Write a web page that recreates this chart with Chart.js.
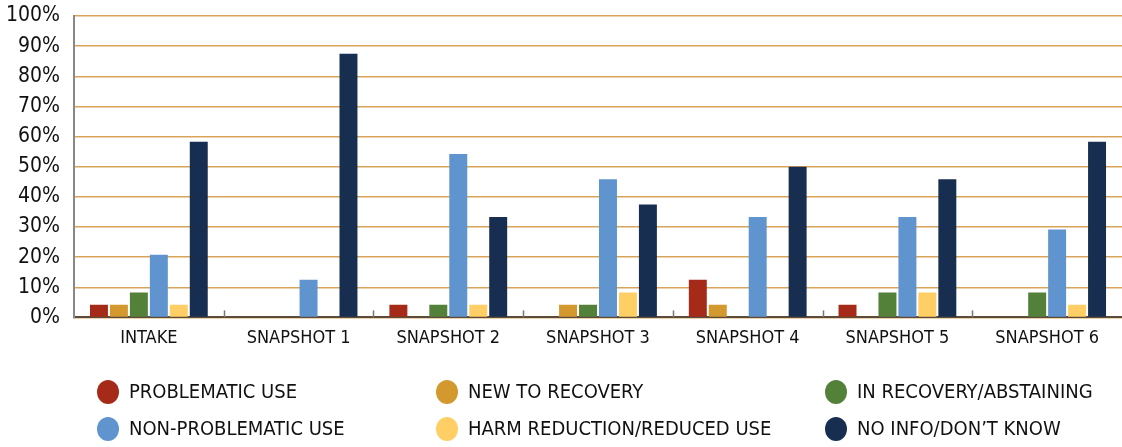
<!DOCTYPE html>
<html>
<head>
<meta charset="utf-8">
<script src="https://cdn.jsdelivr.net/npm/chart.js@4/dist/chart.umd.min.js"></script>
<style>
  html, body { margin: 0; padding: 0; background: #fff; }
  #wrap { width: 1122px; height: 447px; }
</style>
</head>
<body>
<div id="wrap"><canvas id="snapshotChart" width="1122" height="447"></canvas></div>
<script>
// categorias y valores (%)
var categories = ['INTAKE', 'SNAPSHOT 1', 'SNAPSHOT 2', 'SNAPSHOT 3', 'SNAPSHOT 4', 'SNAPSHOT 5', 'SNAPSHOT 6'];
var problematicUse    = [4.2, 0, 4.2, 0, 12.5, 4.2, 0];
var newToRecovery     = [4.2, 0, 0, 4.2, 4.2, 0, 0];
var inRecovery        = [8.3, 0, 4.2, 4.2, 0, 8.3, 8.3];
var nonProblematicUse = [20.8, 12.5, 54.2, 45.8, 33.3, 33.3, 29.2];
var harmReduction     = [4.2, 0, 4.2, 8.3, 0, 8.3, 4.2];
var noInfo            = [58.3, 87.5, 33.3, 37.5, 50, 45.8, 58.3];
var yTicks = [0, 10, 20, 30, 40, 50, 60, 70, 80, 90, 100];

var FONT = "'Liberation Sans Narrow', 'DejaVu Sans Condensed', 'Roboto', sans-serif";

var series = [
    { label: 'PROBLEMATIC USE', data: problematicUse, color: '#A52A17' },
    { label: 'NEW TO RECOVERY', data: newToRecovery, color: '#D4992E' },
    { label: 'IN RECOVERY/ABSTAINING', data: inRecovery, color: '#548139' },
    { label: 'NON-PROBLEMATIC USE', data: nonProblematicUse, color: '#5F94CF' },
    { label: 'HARM REDUCTION/REDUCED USE', data: harmReduction, color: '#FFCE64' },
    { label: 'NO INFO/DON\u2019T KNOW', data: noInfo, color: '#172E51' }
];

// marcas pequenas entre grupos, sobre el eje
var groupTicks = {
    id: 'groupTicks',
    afterDatasetsDraw: function (chart) {
        var ctx = chart.ctx, x = chart.scales.x, area = chart.chartArea;
        var step = x.width / categories.length;
        ctx.save();
        ctx.strokeStyle = '#777';
        ctx.lineWidth = 1.5;
        for (var i = 1; i < categories.length; i++) {
            var px = Math.round(x.left + step * i) + 0.5;
            ctx.beginPath();
            ctx.moveTo(px, area.bottom - 7);
            ctx.lineTo(px, area.bottom);
            ctx.stroke();
        }
        ctx.restore();
    }
};

// leyenda en 3 columnas
var gridLegend = {
    id: 'gridLegend',
    afterDraw: function (chart) {
        var ctx = chart.ctx;
        var colX = [108, 447, 836];
        var rowY = [392, 429];
        ctx.save();
        ctx.font = '20px ' + FONT;
        ctx.textBaseline = 'middle';
        ctx.textAlign = 'left';
        chart.data.datasets.forEach(function (ds, i) {
            var cx = colX[i % 3], cy = rowY[Math.floor(i / 3)];
            ctx.fillStyle = ds.backgroundColor;
            ctx.beginPath();
            ctx.ellipse(cx, cy, 11, 12, 0, 0, Math.PI * 2);
            ctx.fill();
            ctx.fillStyle = '#111';
            ctx.fillText(ds.label, cx + 21, cy + 1);
        });
        ctx.restore();
    }
};

var ctx = document.getElementById('snapshotChart').getContext('2d');
var chart = new Chart(ctx, {
    type: 'bar',
    data: {
        labels: categories,
        datasets: series.map(function (s) {
            return {
                label: s.label,
                data: s.data,
                backgroundColor: s.color,
                borderWidth: 0,
                categoryPercentage: 0.8,
                barPercentage: 0.9
            };
        })
    },
    options: {
        responsive: false,
        animation: false,
        layout: { padding: { top: 16, left: 0, right: 0, bottom: 96 } },
        plugins: {
            legend: { display: false },
            tooltip: { enabled: false }
        },
        scales: {
            x: {
                grid: { display: false },
                border: { display: true, color: '#5B4B3A', width: 2 },
                ticks: { color: '#111', font: { family: FONT, size: 18 }, padding: 2 },
                afterFit: function (axis) { axis.paddingLeft = 0; axis.paddingRight = 0; }
            },
            y: {
                min: 0,
                max: 100,
                afterFit: function (axis) {
                    axis.width = 74;
                    axis.paddingTop = 0;
                    axis.paddingBottom = 0;
                },
                afterBuildTicks: function (axis) {
                    axis.ticks = yTicks.map(function (v) { return { value: v }; });
                },
                grid: { color: '#D8A45A', lineWidth: 1.5, drawTicks: false },
                border: { display: true, color: '#888', width: 2 },
                ticks: {
                    color: '#111',
                    padding: 14,
                    font: { family: FONT, size: 21 },
                    callback: function (v) { return v + '%'; }
                }
            }
        }
    },
    plugins: [groupTicks, gridLegend]
});
</script>
</body>
</html>
